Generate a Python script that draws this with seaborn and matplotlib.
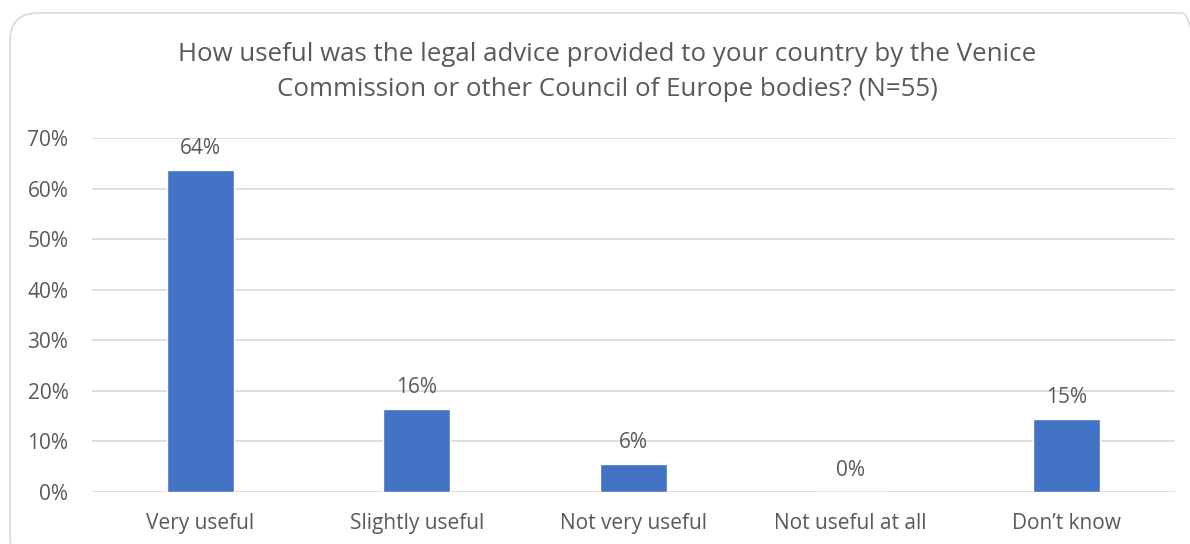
import matplotlib
matplotlib.use("Agg")
import matplotlib.pyplot as plt
import seaborn as sns
import pandas as pd
from matplotlib.patches import FancyBboxPatch
from matplotlib.transforms import IdentityTransform
from matplotlib.ticker import FuncFormatter

categories = ["Very useful", "Slightly useful", "Not very useful", "Not useful at all", "Don\u2019t know"]
values = [63.6, 16.4, 5.5, 0.0, 14.5]
labels = ["64%", "16%", "6%", "0%", "15%"]
title = "How useful was the legal advice provided to your country by the Venice\nCommission or other Council of Europe bodies? (N=55)"

sns.set_theme(style="white")
plt.rcParams['font.family'] = ['Open Sans', 'DejaVu Sans']

TEXT = "#595959"
fig = plt.figure(figsize=(11.9, 5.44), dpi=100)
fig.patch.set_facecolor("white")
border = FancyBboxPatch((10, -20), 1200, 551,
                        boxstyle="round,pad=0,rounding_size=28",
                        transform=IdentityTransform(), facecolor="none",
                        edgecolor="#D9D9D9", linewidth=1.2, zorder=-5)
fig.patches.append(border)

ax = fig.add_axes([92/1190, 1 - 492/544, (1175 - 92)/1190, (492 - 138)/544])
ax.patch.set_visible(False)
df = pd.DataFrame({"cat": categories, "val": [v / 100 for v in values]})
sns.barplot(data=df, x="cat", y="val", color="#4472C4", width=0.31, ax=ax, saturation=1)
ax.set_ylim(0, 0.7)
ax.set_xlim(-0.5, len(categories) - 0.5)
ax.set_yticks([i / 10 for i in range(8)])
ax.yaxis.set_major_formatter(FuncFormatter(lambda v, p: f"{v*100:.0f}%"))
ax.yaxis.grid(True, color="#D9D9D9", linewidth=1.2)
ax.set_axisbelow(True)
for s in ax.spines.values():
    s.set_visible(False)
ax.set_xlabel("")
ax.set_ylabel("")
ax.tick_params(axis="both", length=0, colors=TEXT, labelsize=15)
ax.tick_params(axis="y", pad=17)
ax.tick_params(axis="x", pad=15)
for i, (v, lab) in enumerate(zip(values, labels)):
    ax.annotate(lab, (i, v / 100), xytext=(0, 8), textcoords="offset points",
                ha="center", va="bottom", color=TEXT, fontsize=15)

fig.text(607/1190, 1 - 72/544, title, ha="center", va="center", color=TEXT,
         fontsize=18.6, linespacing=1.55)

fig.savefig("out.png", dpi=100)
